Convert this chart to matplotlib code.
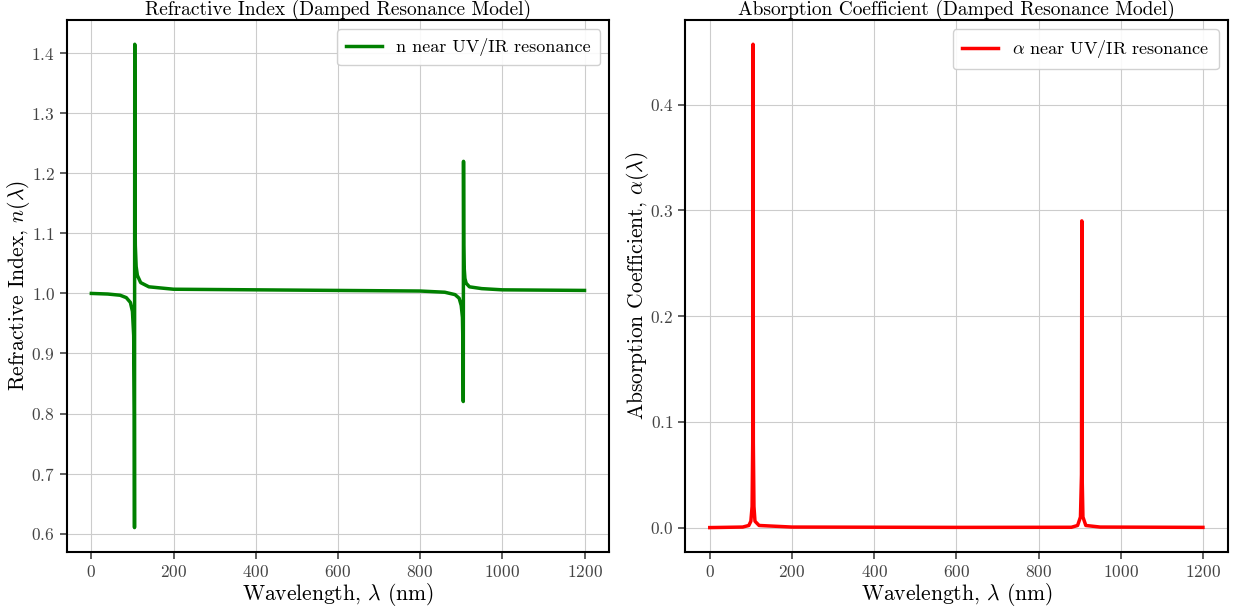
import matplotlib
matplotlib.use("Agg")
import matplotlib.pyplot as plt

plt.rcParams["font.family"] = "serif"
plt.rcParams["font.serif"] = ["cmr10"]
plt.rcParams["mathtext.fontset"] = "cm"
plt.rcParams["axes.formatter.use_mathtext"] = True

# refractive index n(lambda) around the two resonances
wl_n = [0, 40, 70, 85, 95, 100, 103, 104.5, 105, 105.6, 106.2, 107, 109, 112, 120, 140,
        200, 400, 600, 800, 860, 885, 895, 900, 903, 904.5, 905, 905.6, 906.2, 907,
        909, 912, 920, 950, 1000, 1200]
n_vals = [1.000, 0.999, 0.997, 0.993, 0.985, 0.970, 0.930, 0.800, 0.610, 1.415, 1.150,
          1.080, 1.045, 1.030, 1.018, 1.011, 1.007, 1.006, 1.005, 1.004, 1.002, 0.998,
          0.992, 0.980, 0.960, 0.900, 0.820, 1.220, 1.080, 1.045, 1.025, 1.017, 1.011,
          1.008, 1.006, 1.005]

# absorption coefficient alpha(lambda)
wl_a = [0, 80, 95, 100, 103, 104.5, 105.3, 106, 107.5, 110, 120, 200, 600, 880, 895,
        902, 904.5, 905.3, 906, 908, 915, 950, 1200]
alpha_vals = [0.0, 0.0005, 0.002, 0.006, 0.02, 0.08, 0.457, 0.08, 0.02, 0.006, 0.002,
              0.0005, 0.0002, 0.0003, 0.002, 0.01, 0.05, 0.29, 0.05, 0.01, 0.002,
              0.0005, 0.0002]

fig, (ax1, ax2) = plt.subplots(1, 2, figsize=(12.35, 6.09), dpi=100)
fig.subplots_adjust(left=0.054, right=0.994, top=0.967, bottom=0.094, wspace=0.14)

ax1.plot(wl_n, n_vals, color="green", lw=2.5, label="n near UV/IR resonance")
ax1.set_title("Refractive Index (Damped Resonance Model)", fontsize=14, pad=3)
ax1.set_xlabel(r"Wavelength, $\lambda$ (nm)", fontsize=15.5, labelpad=1)
ax1.set_ylabel(r"Refractive Index, $n(\lambda)$", fontsize=15.5, labelpad=-1)

ax2.plot(wl_a, alpha_vals, color="red", lw=2.5, label=r"$\alpha$ near UV/IR resonance")
ax2.set_title("Absorption Coefficient (Damped Resonance Model)", fontsize=14, pad=3)
ax2.set_xlabel(r"Wavelength, $\lambda$ (nm)", fontsize=15.5, labelpad=1)
ax2.set_ylabel(r"Absorption Coefficient, $\alpha(\lambda)$", fontsize=15.5, labelpad=-1)

for ax in (ax1, ax2):
    ax.grid(True, color="#cccccc", lw=0.8)
    ax.tick_params(labelsize=12.5, direction="out", length=5, width=1.2,
                   colors="#444444")
    for sp in ax.spines.values():
        sp.set_linewidth(1.5)
        sp.set_color("black")
    ax.legend(loc="upper right", fontsize=13, handlelength=2, framealpha=0.9,
              borderpad=0.5)
    ax.set_xticks([0, 200, 400, 600, 800, 1000, 1200])

fig.savefig("out.png", dpi=100)
